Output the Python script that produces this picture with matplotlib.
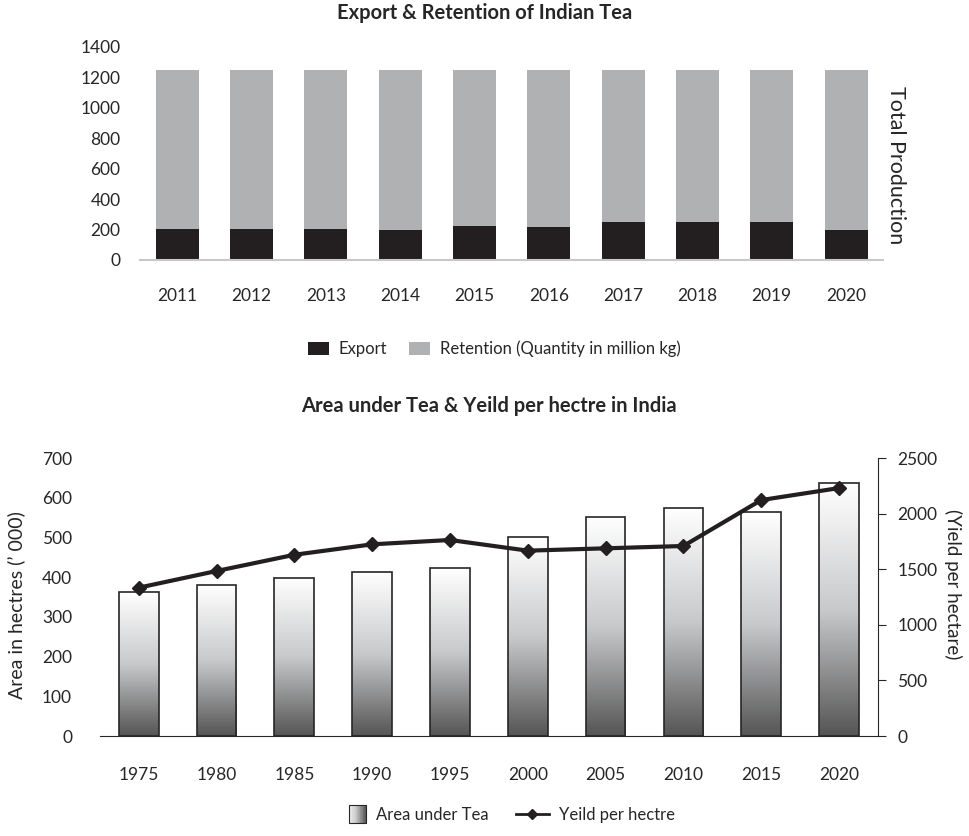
import numpy as np
import matplotlib
matplotlib.use('Agg')
import matplotlib.pyplot as plt
from matplotlib.patches import Patch, Rectangle
from matplotlib.lines import Line2D
from matplotlib.legend_handler import HandlerBase
from matplotlib.colors import LinearSegmentedColormap

plt.rcParams['font.family'] = ['Lato', 'DejaVu Sans']

# Daten: Export & Retention (million kg)
years_top = ['2011', '2012', '2013', '2014', '2015', '2016', '2017', '2018', '2019', '2020']
export = [205, 205, 205, 195, 225, 215, 250, 250, 250, 195]
retention = [1045, 1045, 1045, 1055, 1025, 1035, 1000, 1000, 1000, 1055]

# Daten: Fläche & Ertrag
years_bot = ['1975', '1980', '1985', '1990', '1995', '2000', '2005', '2010', '2015', '2020']
area = [362, 380, 398, 412, 423, 500, 551, 575, 563, 637]
yield_ha = [1334, 1484, 1630, 1724, 1763, 1667, 1688, 1709, 2122, 2230]

txt = '#262626'
grad = LinearSegmentedColormap.from_list('g', ['#ffffff', '#c8c9cb', '#555555'])
tick_fs = 12.5

fig = plt.figure(figsize=(9.69, 8.36), dpi=100)

# ---- oberes Diagramm ----
ax1 = fig.add_axes([0.1445, 0.689, 0.767, 0.255])
x = np.arange(len(years_top))
ax1.bar(x, export, width=0.58, color='#231f20', label='Export')
ax1.bar(x, retention, width=0.58, bottom=export, color='#b0b1b3',
        label='Retention (Quantity in million kg)')
ax1.set_xlim(-0.5, len(x) - 0.5)
ax1.set_ylim(0, 1400)
ax1.set_yticks(range(0, 1401, 200))
ax1.set_xticks(x)
ax1.set_xticklabels(years_top)
for s in ['top', 'right', 'left']:
    ax1.spines[s].set_visible(False)
ax1.spines['bottom'].set_color('#c8c8c8')
ax1.spines['bottom'].set_linewidth(1.5)
ax1.tick_params(length=0, labelsize=tick_fs, colors=txt)
ax1.tick_params(axis='x', pad=20)
ax1.tick_params(axis='y', pad=14)
ax1.set_title('Export & Retention of Indian Tea', fontsize=14.5, fontweight='bold',
              color=txt, pad=20, x=0.464)
ax1.yaxis.set_label_position('right')
ax1.set_ylabel('Total Production', rotation=-90, fontsize=15.5, color=txt, labelpad=18)
ax1.yaxis.set_label_coords(1.031, 0.446)
ax1.yaxis.label.set_va('top')
fig.legend(handles=ax1.get_legend_handles_labels()[0], loc='center',
           bbox_to_anchor=(0.51, 1 - 349 / 836), ncol=2, frameon=False,
           fontsize=12, handlelength=1.25, handleheight=0.9, columnspacing=1.3,
           handletextpad=0.6, labelcolor=txt)

# ---- unteres Diagramm ----
ax2 = fig.add_axes([0.103, 0.1196, 0.803, 0.3325])
xb = np.arange(len(years_bot))
bars = ax2.bar(xb, area, width=0.51, color='none', edgecolor='#262626', linewidth=1.2, zorder=3)
gimg = np.linspace(0, 1, 256).reshape(-1, 1)
for b in bars:
    bx, by = b.get_x(), b.get_y()
    w, h = b.get_width(), b.get_height()
    im = ax2.imshow(gimg, cmap=grad, aspect='auto', extent=[bx, bx + w, by, by + h],
                    origin='upper', zorder=2)
    im.set_clip_path(b)
ax2.set_xlim(-0.5, len(xb) - 0.5)
ax2.set_ylim(0, 700)
ax2.set_yticks(range(0, 701, 100))
ax2.set_xticks(xb)
ax2.set_xticklabels(years_bot)
for s in ['top', 'right', 'left']:
    ax2.spines[s].set_visible(False)
ax2.spines['bottom'].set_color('#262626')
ax2.tick_params(length=0, labelsize=tick_fs, colors=txt)
ax2.tick_params(axis='x', pad=22)
ax2.tick_params(axis='y', pad=20)
ax2.set_ylabel("Area in hectres (\u2019 000)", fontsize=14, color=txt, labelpad=12)
ax2.yaxis.set_label_coords(-0.107, 0.471)
ax2.yaxis.label.set_va('center')
ax2.set_title('Area under Tea & Yeild per hectre in India', fontsize=14.5,
              fontweight='bold', color=txt, pad=33)

ax3 = ax2.twinx()
ax3.plot(xb, yield_ha, color='#231f20', lw=3, marker='D', markersize=7, zorder=5)
ax3.set_ylim(0, 2500)
ax3.set_yticks(range(0, 2501, 500))
for s in ['top', 'left', 'bottom']:
    ax3.spines[s].set_visible(False)
ax3.spines['right'].set_color('#262626')
ax3.tick_params(axis='y', direction='out', length=6, color='#262626', labelsize=tick_fs,
                labelcolor=txt, pad=8)
ax3.set_ylabel('(Yield per hectare)', rotation=-90, fontsize=13.5, color=txt, labelpad=20)
ax3.yaxis.set_label_coords(1.097, 0.547)
ax3.yaxis.label.set_va('center')


class GradHandler(HandlerBase):
    def create_artists(self, legend, orig_handle, xdescent, ydescent, width, height,
                       fontsize, trans):
        arts = []
        n = 24
        size = height * 1.5
        x0 = -xdescent + width - size
        y0 = -ydescent + (height - size) / 2
        for i in range(n):
            arts.append(Rectangle((x0 + i * size / n, y0), size / n + 0.3, size,
                                  facecolor=grad(0.15 + 0.85 * i / (n - 1)),
                                  edgecolor='none', transform=trans))
        arts.append(Rectangle((x0, y0), size, size, facecolor='none',
                              edgecolor='#262626', lw=0.8, transform=trans))
        return arts


h_area = Patch(label='Area under Tea')
h_line = Line2D([], [], color='#231f20', lw=2, marker='D', markersize=5,
                label='Yeild per hectre')
fig.legend(handles=[h_area, h_line], loc='center', bbox_to_anchor=(0.52, 1 - 815 / 836),
           ncol=2, frameon=False, fontsize=12, handlelength=2.0, columnspacing=1.6,
           handletextpad=0.6, labelcolor=txt, handler_map={Patch: GradHandler()})

plt.savefig('out.png', dpi=100)
